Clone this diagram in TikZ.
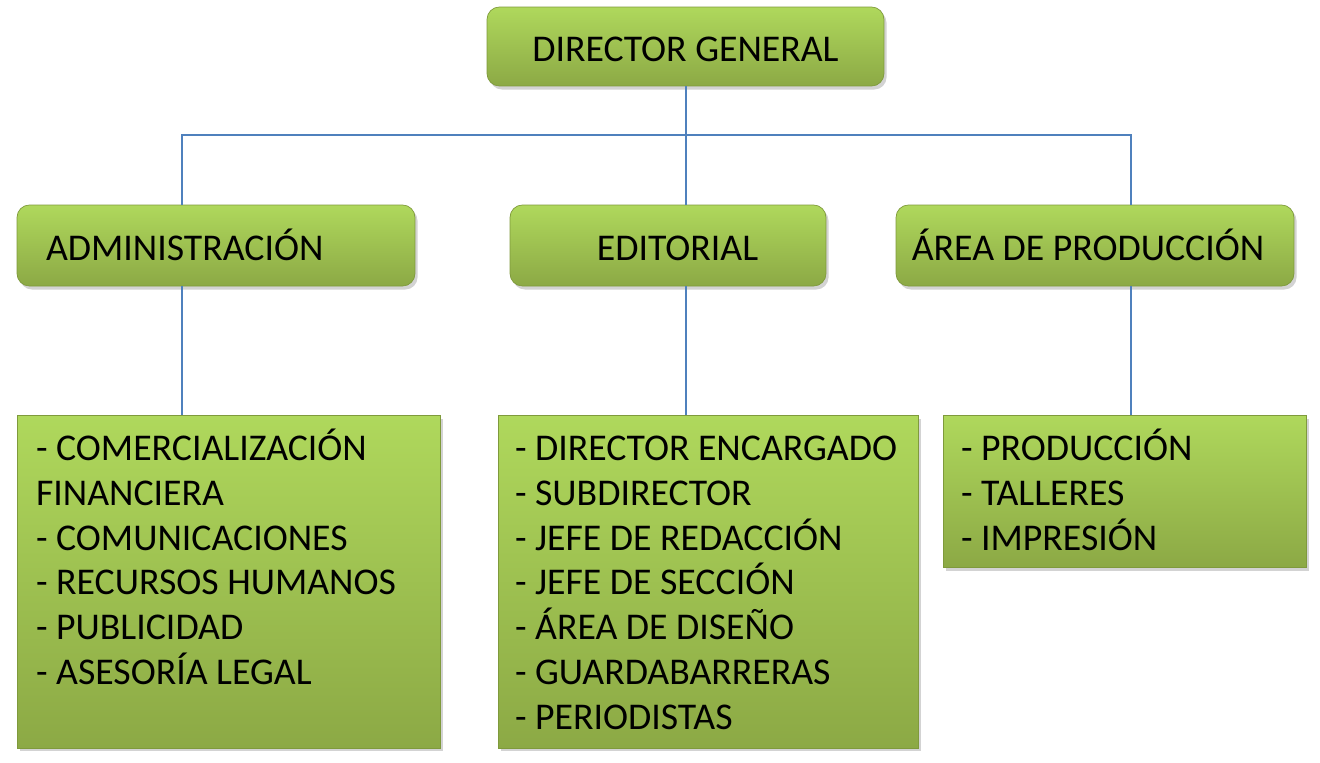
\documentclass[tikz,border=0pt]{standalone}
\usepackage{fontspec}
\setmainfont{Carlito}
\usetikzlibrary{shadows,positioning}
\definecolor{boxtop}{HTML}{AFD85C}
\definecolor{boxbot}{HTML}{8CA945}
\definecolor{boxedge}{HTML}{7F9A3C}
\definecolor{linkblue}{HTML}{4F81BD}
\tikzset{
  headbox/.style={rounded corners=7pt, draw=boxedge, line width=0.4pt,
    top color=boxtop, bottom color=boxbot, inner sep=0pt,
    text height=18pt, text depth=1pt,
    drop shadow={opacity=0.35, shadow xshift=1.5pt, shadow yshift=-2pt},
    font=\fontsize{21.5}{24}\selectfont},
  listbox/.style={draw=boxedge, line width=0.4pt, inner sep=0pt,
    top color=boxtop, bottom color=boxbot,
    drop shadow={opacity=0.35, shadow xshift=1.5pt, shadow yshift=-2pt}},
  listtext/.style={anchor=north west, align=left, inner sep=0pt,
    font=\fontsize{21.5}{25.5}\selectfont},
  link/.style={draw=linkblue, line width=0.9pt}
}
\begin{document}
\begin{tikzpicture}[x=0.02cm,y=-0.02cm]
  \useasboundingbox (0,0) rectangle (1320,762);
  % connector points
  \coordinate (bus)  at (686,135);
  \coordinate (busA) at (182,135);
  \coordinate (busC) at (1131,135);
  % top
  \node[headbox, minimum width=7.94cm, minimum height=1.58cm] (dg) at (685.5,46.5) {DIRECTOR GENERAL};
  % second level
  \node[headbox, minimum width=7.96cm, minimum height=1.62cm, text width=6.8cm, align=left] (adm) at (216,245.5) {ADMINISTRACIÓN};
  \node[headbox, minimum width=6.32cm, minimum height=1.62cm] (edi) at (668,245.5) {\hspace*{0.38cm}EDITORIAL};
  \node[headbox, minimum width=7.96cm, minimum height=1.62cm] (prod) at (1095,245.5) {ÁREA DE PRODUCCIÓN\hspace*{0.28cm}};
  % lists
  \node[listbox, minimum width=8.46cm, minimum height=6.66cm] (admlist) at (228.5,581.5) {};
  \node[listbox, minimum width=8.40cm, minimum height=6.66cm] (edilist) at (708,581.5) {};
  \node[listbox, minimum width=7.26cm, minimum height=3.04cm] (prodlist) at (1124.5,491) {};
  \node[listtext] (admtext) at ([xshift=0.38cm, yshift=-0.28cm]admlist.north west)
    {\strut- COMERCIALIZACIÓN\\FINANCIERA\\- COMUNICACIONES\\- RECURSOS HUMANOS\\- PUBLICIDAD\\- ASESORÍA LEGAL};
  \node[listtext] (editext) at ([xshift=0.34cm, yshift=-0.28cm]edilist.north west)
    {\strut- DIRECTOR ENCARGADO\\- SUBDIRECTOR\\- JEFE DE REDACCIÓN\\- JEFE DE SECCIÓN\\- ÁREA DE DISEÑO\\- GUARDABARRERAS\\- PERIODISTAS};
  \node[listtext] (prodtext) at ([xshift=0.36cm, yshift=-0.28cm]prodlist.north west)
    {\strut- PRODUCCIÓN\\- TALLERES\\- IMPRESIÓN};
  % connectors
  \draw[link] (dg.south -| bus) -- (bus);
  \draw[link] (busA |- adm.north) -- (busA) -- (busC) -- (busC |- prod.north);
  \draw[link] (bus) -- (bus |- edi.north);
  \draw[link] (busA |- adm.south) -- (busA |- admlist.north);
  \draw[link] (bus |- edi.south) -- (bus |- edilist.north);
  \draw[link] (busC |- prod.south) -- (busC |- prodlist.north);
\end{tikzpicture}
\end{document}
